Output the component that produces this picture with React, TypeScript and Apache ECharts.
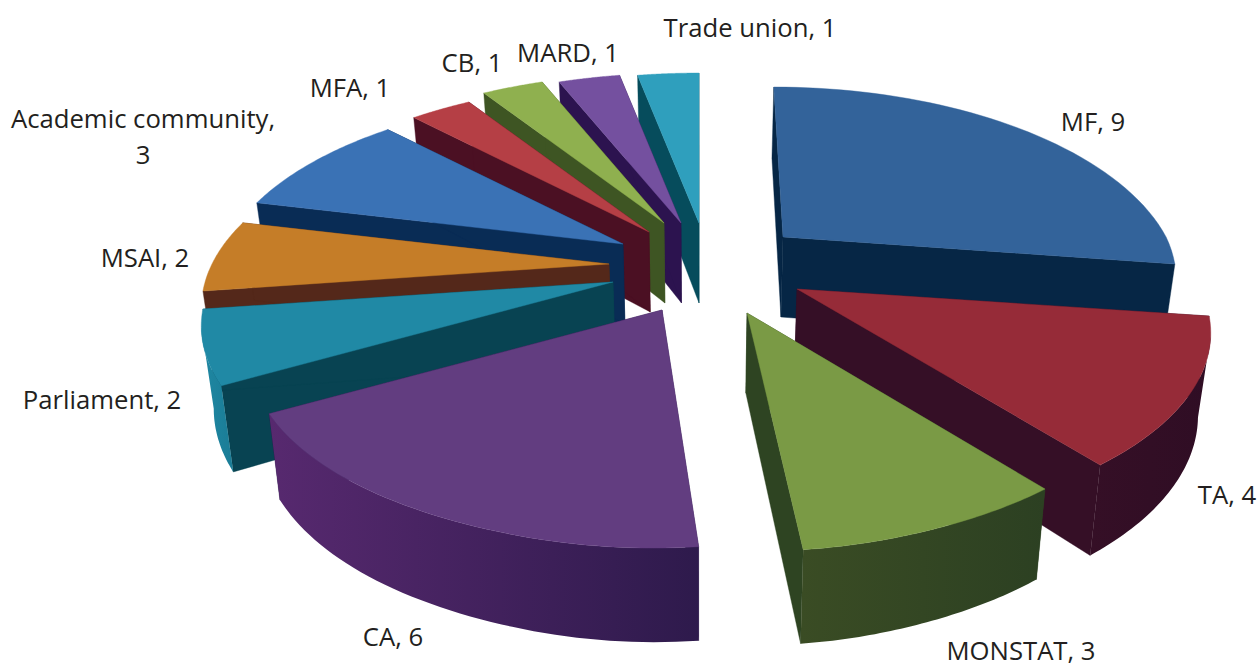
import React, { useEffect, useRef } from "react";
import * as echarts from "echarts";

const categories = ["MF", "TA", "MONSTAT", "CA", "Parliament", "MSAI", "Academic community", "MFA", "CB", "MARD", "Trade union"];
const values = [9, 4, 3, 6, 2, 2, 3, 1, 1, 1, 1];

// how far each slice is pulled out of the pie, in pixels on the page
const explodeX = [83, 97, 47, -38, -87, -91, -77, -51, -36, -19, -1];
const explodeY = [-26, 26, 50, 47, 19, 1, -19, -31, -40, -40, -40];
// horizontal foreshortening of each slice, from its depth in the scene
const widen = [0.965, 1.015, 1, 1.013, 1.01, 1, 1, 1, 1, 1, 1];

const topColors = ["#33639a", "#962b38", "#7a9a45", "#623d80", "#2089a5", "#c57d28", "#3a72b5", "#b53f45", "#8fb04f", "#74509f", "#2f9fbd"];
const sideColors = ["#062645", "#350f26", "#2e4422", "#2e1a4c", "#084352", "#54281a", "#092c55", "#4b1023", "#3e5523", "#2c134f", "#064c5c"];
const wallLeft = ["#062645", "#350f26", "#3a4c24", "#57296f", "#1f88a3", "#54281a", "#092c55", "#4b1023", "#3e5523", "#2c134f", "#064c5c"];
const wallRight = ["#062645", "#2f0d24", "#2c4022", "#2e1a4c", "#1a7c96", "#54281a", "#092c55", "#4b1023", "#3e5523", "#2c134f", "#064c5c"];

// label centres, in pixels on the page
const labelX = [1093, 1227, 1021, 393, 102, 145, 143, 350, 472, 568, 750];
const labelY = [121, 494, 650, 636, 399, 257, 136, 87, 62, 52, 27];

const CX = 700, CY = 263, RX = 397, RY = 184, P = 0.227, H = 80, SHRINK = 0.975;
const total = values.reduce((a, b) => a + b, 0);
const rad = (d: number) => (d * Math.PI) / 180;

const starts: number[] = [];
values.reduce((acc, v, i) => { starts[i] = acc; return acc + v; }, 0);

function outer(i: number, deg: number) {
  const t = rad(deg);
  const c = Math.cos(t);
  const s = 1 / (1 + P * c);
  const ax = CX + explodeX[i], ay = CY + explodeY[i];
  const front = c < 0 ? Math.pow(-c, 12) : 0;
  const tilt = c > 0 ? Math.max(explodeX[i], 0) * (s - 1) * 0.6 : explodeX[i] * 0.25 * front;
  const x = ax + RX * widen[i] * (1 - 0.08 * front) * Math.sin(t) * s + tilt;
  const y = ay - RY * c * s;
  const h = H * (1 + (s - 1) * 0.6);
  return { top: [x, y], bottom: [CX + (x - CX) * SHRINK, y + h] };
}

function renderSlice(params: any) {
  const i = order[params.dataIndex];
  const a0 = (starts[i] / total) * 360;
  const a1 = ((starts[i] + values[i]) / total) * 360;
  const ax = CX + explodeX[i], ay = CY + explodeY[i];
  const apexB = [CX + (ax - CX) * SHRINK, ay + H];
  const steps = 48;
  const topArc: number[][] = [];
  const wallTop: number[][] = [];
  const wallBot: number[][] = [];
  for (let k = 0; k <= steps; k++) {
    const d = a0 + ((a1 - a0) * k) / steps;
    const o = outer(i, d);
    topArc.push(o.top);
    if (Math.cos(rad(d)) < -P) { wallTop.push(o.top); wallBot.push(o.bottom); }
  }
  const startO = outer(i, a0), endO = outer(i, a1);
  const stroke = (c: string) => ({ fill: c, stroke: c, lineWidth: 0.4 });
  const children: any[] = [
    { type: "polygon", shape: { points: [[ax, ay], startO.top, startO.bottom, apexB] }, style: stroke(sideColors[i]) },
    { type: "polygon", shape: { points: [[ax, ay], endO.top, endO.bottom, apexB] }, style: stroke(sideColors[i]) },
  ];
  if (wallTop.length > 1) {
    const grad = new echarts.graphic.LinearGradient(0, 0, 1, 0, [
      { offset: 0, color: wallLeft[i] },
      { offset: 1, color: wallRight[i] },
    ]);
    children.push({
      type: "polygon",
      shape: { points: wallTop.concat(wallBot.slice().reverse()) },
      style: { fill: grad },
    });
  }
  children.push({ type: "polygon", shape: { points: [[ax, ay], ...topArc] }, style: stroke(topColors[i]) });
  return { type: "group", children };
}

// paint slices from the back of the pie to the front
const order = values
  .map((_, i) => i)
  .sort((a, b) => {
    const mid = (j: number) => rad(((starts[j] + values[j] / 2) / total) * 360);
    return Math.cos(mid(b)) - Math.cos(mid(a));
  });

const labelElements = categories.flatMap((name, i) => {
  const style = { fill: "#231f20", font: "25.7px 'Open Sans'", textAlign: "center", textVerticalAlign: "middle" };
  if (name === "Academic community") {
    return [
      { type: "text", x: labelX[i], y: labelY[i] - 18, style: { ...style, text: `${name},` } },
      { type: "text", x: labelX[i], y: labelY[i] + 18, style: { ...style, text: `${values[i]}` } },
    ];
  }
  return [{ type: "text", x: labelX[i], y: labelY[i], style: { ...style, text: `${name}, ${values[i]}` } }];
});

export default function App() {
  const ref = useRef<HTMLDivElement>(null);
  useEffect(() => {
    const chart = echarts.init(ref.current!, null, { renderer: "svg" });
    chart.setOption({
      animation: false,
      backgroundColor: "#ffffff",
      graphic: { elements: labelElements },
      series: [
        {
          type: "custom",
          coordinateSystem: "none",
          silent: true,
          clip: false,
          data: order.map((i) => ({ name: categories[i], value: values[i] })),
          renderItem: renderSlice,
        },
      ],
    });
    return () => chart.dispose();
  }, []);
  return <div ref={ref} style={{ position: "fixed", left: 0, top: 0, width: 1259, height: 665 }} />;
}
